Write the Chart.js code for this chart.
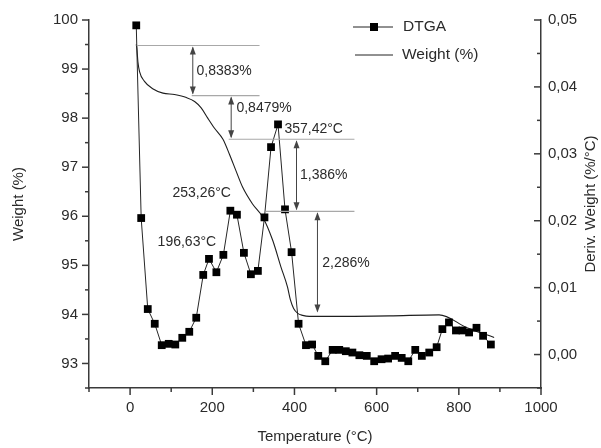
<!DOCTYPE html>
<html>
<head>
<meta charset="utf-8">
<script src="https://cdn.jsdelivr.net/npm/chart.js@4.4.0/dist/chart.umd.min.js"></script>
<style>
  body { margin: 0; background: #fff; }
  canvas { display: block; }
</style>
</head>
<body>
<canvas id="tga-chart" width="601" height="448"></canvas>
<script>
// weight curve (left axis)
const weightTemp = [15, 16.5, 19, 23, 35, 55, 80, 108, 137, 157, 173, 189, 205, 226, 242, 258, 274, 298, 323, 347, 367, 383, 390, 398, 408, 420, 436, 509, 631, 752, 820, 886];
const weightValues = [99.5, 99.42, 99.15, 98.95, 98.75, 98.6, 98.51, 98.48, 98.42, 98.34, 98.21, 98.0, 97.8, 97.57, 97.26, 96.92, 96.59, 96.25, 95.98, 95.51, 94.97, 94.56, 94.3, 94.12, 94.02, 93.98, 93.96, 93.96, 93.97, 93.99, 93.73, 93.53];

// DTGA markers (right axis)
const dtgaTemp = [15, 27, 43, 60, 77, 94, 110, 127, 144, 161, 178, 192, 210, 227, 244, 260, 277, 294, 311, 327, 343, 360, 377, 393, 410, 428, 443, 458, 475, 493, 509, 525, 541, 558, 576, 594, 612, 628, 645, 661, 677, 694, 710, 728, 746, 760, 776, 793, 809, 825, 843, 859, 878];
const dtgaValues = [0.0492, 0.0204, 0.0068, 0.0046, 0.0014, 0.0016, 0.0015, 0.0025, 0.0034, 0.0055, 0.0119, 0.0143, 0.0123, 0.0149, 0.0215, 0.0209, 0.0152, 0.0120, 0.0125, 0.0205, 0.0310, 0.0344, 0.0217, 0.0153, 0.0046, 0.0014, 0.0015, -0.0002, -0.0010, 0.0007, 0.0007, 0.0005, 0.0003, -0.0001, -0.0002, -0.0010, -0.0007, -0.0006, -0.0002, -0.0005, -0.0010, 0.0007, -0.0002, 0.0003, 0.0011, 0.0038, 0.0048, 0.0036, 0.0036, 0.0033, 0.0040, 0.0028, 0.0015];

const tempTicks = [0, 200, 400, 600, 800, 1000];
const tempTickLabels = ["0", "200", "400", "600", "800", "1000"];
const weightTicks = [93, 94, 95, 96, 97, 98, 99, 100];
const derivTicks = [0, 0.01, 0.02, 0.03, 0.04, 0.05];
const derivTickLabels = ["0,00", "0,01", "0,02", "0,03", "0,04", "0,05"];

// step annotations, in data units (temperature, weight %)
const guideLines = [
  [16, 315, 99.48],
  [150, 315, 98.46],
  [240, 546, 97.57],
  [330, 546, 96.10],
];
const arrows = [
  [152.6, 99.48, 98.46],
  [246, 98.46, 97.57],
  [405, 97.57, 96.10],
  [456, 96.10, 94.02],
];
const notes = [
  ["0,8383%", 161.6, 98.95],
  ["0,8479%", 258.8, 98.21],
  ["357,42°C", 375.5, 97.77],
  ["1,386%", 413.6, 96.84],
  ["2,286%", 467.8, 95.04],
  ["253,26°C", 103, 96.48],
  ["196,63°C", 67, 95.47],
];

const FONT = "'Liberation Sans', Arial, sans-serif";
const TEXT = "#2b2b2b";
const AXIS = "#3a3a3a";

function minorTicks(ticks, min) {
  const step = ticks[1] - ticks[0];
  const out = [];
  if (ticks[0] - step / 2 >= min - 1e-9) out.push(ticks[0] - step / 2);
  for (let i = 0; i < ticks.length - 1; i++) out.push((ticks[i] + ticks[i + 1]) / 2);
  return out;
}

function arrowHead(ctx, x, y, dir) {
  ctx.beginPath();
  ctx.moveTo(x, y);
  ctx.lineTo(x - 3, y - dir * 8);
  ctx.lineTo(x + 3, y - dir * 8);
  ctx.closePath();
  ctx.fill();
}

const decorations = {
  id: "decorations",
  afterDraw(chart) {
    const { ctx, chartArea, scales } = chart;
    const xs = scales.x, yl = scales.y, yr = scales.y1;
    ctx.save();

    // axis ticks
    ctx.strokeStyle = AXIS;
    ctx.lineWidth = 1.5;
    const line = (x1, y1, x2, y2) => {
      ctx.beginPath(); ctx.moveTo(x1, y1); ctx.lineTo(x2, y2); ctx.stroke();
    };
    tempTicks.forEach(v => { const x = xs.getPixelForValue(v); line(x, chartArea.bottom, x, chartArea.bottom + 7); });
    minorTicks(tempTicks, xs.min).forEach(v => { const x = xs.getPixelForValue(v); line(x, chartArea.bottom, x, chartArea.bottom + 4); });
    weightTicks.forEach(v => { const y = yl.getPixelForValue(v); line(chartArea.left - 7, y, chartArea.left, y); });
    minorTicks(weightTicks, yl.min).forEach(v => { const y = yl.getPixelForValue(v); line(chartArea.left - 4, y, chartArea.left, y); });
    derivTicks.forEach(v => { const y = yr.getPixelForValue(v); line(chartArea.right - 7, y, chartArea.right, y); });
    minorTicks(derivTicks, yr.min).forEach(v => { const y = yr.getPixelForValue(v); line(chartArea.right - 4, y, chartArea.right, y); });

    // guide lines and arrows
    ctx.strokeStyle = "#a8a8a8";
    ctx.lineWidth = 1.2;
    guideLines.forEach(([t1, t2, w]) => {
      const y = yl.getPixelForValue(w);
      line(xs.getPixelForValue(t1), y, xs.getPixelForValue(t2), y);
    });
    ctx.strokeStyle = "#444";
    ctx.fillStyle = "#444";
    ctx.lineWidth = 1;
    arrows.forEach(([t, wTop, wBot]) => {
      const x = xs.getPixelForValue(t);
      const y1 = yl.getPixelForValue(wTop), y2 = yl.getPixelForValue(wBot);
      line(x, y1 + 2, x, y2 - 2);
      arrowHead(ctx, x, y1 + 1, -1);
      arrowHead(ctx, x, y2 - 1, 1);
    });

    // annotation text
    ctx.fillStyle = TEXT;
    ctx.font = "14px " + FONT;
    ctx.textAlign = "left";
    ctx.textBaseline = "middle";
    notes.forEach(([txt, t, w]) => ctx.fillText(txt, xs.getPixelForValue(t), yl.getPixelForValue(w)));

    // axis titles
    ctx.font = "15px " + FONT;
    ctx.textAlign = "center";
    ctx.fillText("Temperature (°C)", (chartArea.left + chartArea.right) / 2, 437);
    const midY = (chartArea.top + chartArea.bottom) / 2;
    [[19, "Weight (%)"], [591, "Deriv. Weight (%/°C)"]].forEach(([x, txt]) => {
      ctx.save();
      ctx.translate(x, midY);
      ctx.rotate(-Math.PI / 2);
      ctx.fillText(txt, 0, 0);
      ctx.restore();
    });

    // legend
    ctx.strokeStyle = "#222";
    ctx.lineWidth = 1;
    line(353, 27, 393, 27);
    ctx.fillStyle = "#000";
    ctx.fillRect(370, 23, 8, 8);
    line(355, 55, 393, 55);
    ctx.fillStyle = TEXT;
    ctx.textAlign = "left";
    ctx.font = "15.5px " + FONT;
    ctx.fillText("DTGA", 403, 27);
    ctx.fillText("Weight (%)", 402, 55);

    ctx.restore();
  }
};

const tickFont = { family: FONT, size: 15 };
const axisBorder = { display: true, color: AXIS, width: 1.5 };
const noGrid = { display: false, drawTicks: false };

new Chart(document.getElementById("tga-chart"), {
  type: "line",
  data: {
    datasets: [
      {
        label: "DTGA",
        data: dtgaTemp.map((t, i) => ({ x: t, y: dtgaValues[i] })),
        yAxisID: "y1",
        borderColor: "#262626",
        borderWidth: 1,
        pointStyle: "rect",
        pointRadius: 5.5,
        pointBackgroundColor: "#000",
        pointBorderWidth: 0,
        tension: 0,
      },
      {
        label: "Weight (%)",
        data: weightTemp.map((t, i) => ({ x: t, y: weightValues[i] })),
        yAxisID: "y",
        borderColor: "#1e1e1e",
        borderWidth: 1.1,
        pointRadius: 0,
        cubicInterpolationMode: "monotone",
      },
    ],
  },
  options: {
    responsive: false,
    animation: false,
    layout: { padding: { top: 18, left: 0, right: 0, bottom: 0 } },
    plugins: { legend: { display: false }, tooltip: { enabled: false } },
    scales: {
      x: {
        type: "linear",
        min: -100,
        max: 1000,
        grid: noGrid,
        border: axisBorder,
        afterBuildTicks: (s) => { s.ticks = tempTicks.map(v => ({ value: v })); },
        afterFit: (s) => { s.height = 60; },
        ticks: { font: tickFont, color: TEXT, padding: 11, maxRotation: 0, callback: (v, i) => tempTickLabels[i] },
      },
      y: {
        position: "left",
        min: 92.5,
        max: 100,
        grid: noGrid,
        border: axisBorder,
        afterBuildTicks: (s) => { s.ticks = weightTicks.map(v => ({ value: v })); },
        afterFit: (s) => { s.width = 89; },
        ticks: { font: tickFont, color: TEXT, padding: 11 },
      },
      y1: {
        position: "right",
        min: -0.005,
        max: 0.05,
        grid: noGrid,
        border: axisBorder,
        afterBuildTicks: (s) => { s.ticks = derivTicks.map(v => ({ value: v })); },
        afterFit: (s) => { s.width = 60; },
        ticks: { font: tickFont, color: TEXT, padding: 7, callback: (v, i) => derivTickLabels[i] },
      },
    },
  },
  plugins: [decorations],
});
</script>
</body>
</html>
